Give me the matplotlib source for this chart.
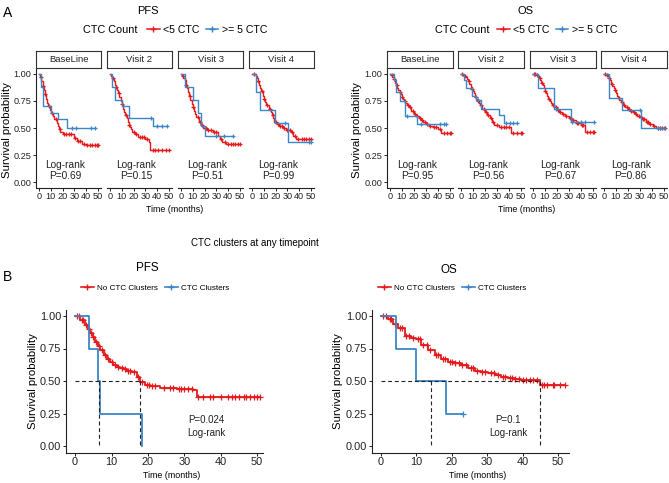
import numpy as np
import matplotlib
matplotlib.use("Agg")
import matplotlib.pyplot as plt
from matplotlib.lines import Line2D

plt.rcParams['font.family'] = ['Liberation Sans', 'DejaVu Sans']

W, H = 669, 483
RED = '#E41A1C'
BLUE = '#3A86C8'

FACETS = ['BaseLine', 'Visit 2', 'Visit 3', 'Visit 4']

# ---- panel A, PFS: <5 CTC (time, survival after step, censor times) ----
pfs_lo_t = [
    [0, 1, 2, 3, 4, 5, 6, 7, 8, 9, 10, 12, 13, 15, 16, 17, 18, 20, 30, 32, 36, 40],
    [0, 1, 2, 3, 4, 5, 6, 7, 8, 9, 10, 11, 12, 13, 14, 15, 16, 17, 18, 19, 21, 24, 30, 33, 34],
    [0, 1, 2, 3, 4, 5, 6, 7, 8, 9, 10, 11, 12, 13, 15, 17, 19, 22, 27, 31, 33, 35, 38],
    [0, 3, 4, 5, 6, 7, 8, 9, 10, 11, 12, 14, 16, 17, 18, 19, 21, 23, 26, 29, 33, 35, 37],
]
pfs_lo_s = [
    [1, .97, .93, .89, .85, .81, .77, .73, .70, .67, .64, .61, .58, .55, .52, .49, .46, .44, .41, .38, .35, .34],
    [1, .98, .96, .93, .90, .88, .85, .82, .79, .75, .72, .68, .65, .62, .59, .56, .53, .51, .49, .46, .44, .42, .40, .37, .30],
    [1, .98, .96, .94, .90, .87, .83, .80, .76, .72, .69, .66, .63, .60, .56, .53, .50, .48, .46, .43, .40, .37, .35],
    [1, .98, .96, .93, .90, .87, .84, .80, .77, .74, .71, .68, .65, .62, .59, .56, .54, .52, .50, .48, .46, .43, .40],
]
pfs_lo_c = [
    [1.5, 3.5, 5.5, 8.5, 11, 14, 17.5, 21, 23, 25, 27, 30.5, 33, 35, 38, 41, 43, 45, 47, 49, 50],
    [2.5, 5.5, 7.5, 10.5, 13.5, 16.5, 20, 22, 25, 27, 29, 31, 36, 38, 41, 44, 47, 50],
    [1.5, 4.5, 7.5, 10.5, 14, 16, 18, 20, 21, 23, 25, 28, 30, 34, 37, 40, 42, 44, 46, 48, 50],
    [2, 5.5, 8.5, 10.5, 13, 15, 17.5, 20, 22, 24, 25, 27, 30, 32, 34, 36, 39, 42, 44, 46, 48, 50],
]
# ---- panel A, PFS: >= 5 CTC ----
pfs_hi_t = [
    [0, 1.5, 3.5, 10, 16, 24],
    [0, 2, 4.5, 10, 16, 36],
    [0, 3, 10, 14, 17, 20],
    [0, 3.5, 6.5, 19.5, 30.5],
]
pfs_hi_s = [
    [1, .88, .70, .64, .58, .50],
    [1, .88, .76, .70, .59, .52],
    [1, .88, .76, .64, .52, .43],
    [1, .83, .67, .55, .37],
]
pfs_hi_c = [
    [28, 31, 44, 47],
    [35, 40, 44, 48],
    [30, 36, 44],
    [28, 48, 50],
]
pfs_pvals = ['P=0.69', 'P=0.15', 'P=0.51', 'P=0.99']

# ---- panel A, OS: <5 CTC ----
os_lo_t = [
    [0, 1, 2, 3, 4, 5, 6, 7, 8, 9, 10, 11, 12, 13, 14, 16, 18, 20, 22, 24, 26, 28, 30, 33, 36, 40, 43],
    [0, 2, 3, 4, 5, 6, 7, 8, 9, 10, 11, 12, 13, 14, 15, 16, 18, 20, 22, 24, 26, 28, 32, 42],
    [0, 3, 4, 5, 6, 7, 8, 9, 10, 11, 12, 13, 14, 15, 16, 18, 20, 22, 24, 27, 30, 33, 36, 40, 44],
    [0, 2, 3, 4, 5, 6, 7, 8, 9, 10, 11, 12, 13, 14, 16, 18, 20, 22, 24, 26, 28, 30, 32, 35, 38, 41, 44],
]
os_lo_s = [
    [1, .99, .97, .95, .92, .90, .87, .85, .83, .81, .79, .77, .75, .73, .71, .69, .66, .63, .61, .59, .57, .56, .54, .52, .51, .49, .45],
    [1, .99, .98, .97, .95, .93, .91, .88, .86, .84, .82, .79, .77, .75, .73, .71, .68, .65, .62, .59, .56, .53, .51, .45],
    [1, .99, .98, .96, .94, .92, .90, .87, .84, .82, .80, .77, .75, .73, .71, .69, .67, .65, .63, .61, .59, .57, .55, .53, .46],
    [1, .99, .98, .96, .94, .91, .89, .87, .85, .82, .80, .78, .76, .74, .71, .69, .68, .66, .65, .63, .61, .60, .58, .56, .54, .52, .50],
]
os_lo_c = [
    [1.5, 3.5, 5.5, 8.5, 10.5, 12.5, 15, 17, 19, 21, 23, 25, 27, 29, 31, 34, 37, 39, 42, 45, 48, 50, 51],
    [1, 3.5, 6.5, 9.5, 12.5, 14.5, 17, 19, 21, 23, 25, 27, 30, 34, 36, 38, 40, 44, 47, 50, 51],
    [1, 2, 3.5, 5.5, 7.5, 10.5, 13.5, 17, 19, 21, 23, 25, 28, 31, 34, 37, 38, 41, 42, 45, 48, 50, 51],
    [1, 2.5, 4.5, 6.5, 9.5, 12.5, 15, 17, 19, 21, 23, 25, 27, 29, 31, 33, 34, 36, 37, 39, 42, 45, 47, 49, 51],
]
# ---- panel A, OS: >= 5 CTC ----
os_hi_t = [
    [0, 3, 5, 8, 13, 23],
    [0, 2.5, 4, 9, 13, 17, 32, 36],
    [0, 4, 18, 32],
    [0, 4.5, 15.5, 31],
]
os_hi_s = [
    [1, .94, .83, .75, .61, .54],
    [1, .94, .87, .80, .76, .68, .62, .55],
    [1, .87, .68, .56],
    [1, .78, .67, .50],
]
os_hi_c = [
    [14.5, 26, 42, 45, 47],
    [14, 38, 41, 44, 47],
    [19, 33, 40, 44, 51],
    [30, 45, 47, 50],
]
os_pvals = ['P=0.95', 'P=0.56', 'P=0.67', 'P=0.86']

# ---- panel B: CTC clusters at any timepoint ----
pfsb_no_t = [0, 1.4, 2.7, 3.5, 4.1, 4.8, 5.5, 6.2, 6.9, 7.8, 8.7, 9.6, 10.5, 11.4, 12.4,
             13.3, 14.2, 15.6, 16.9, 17.9, 19.2, 20.6, 23.4, 27.9, 32.5, 33.4]
pfsb_no_s = [1, .97, .93, .90, .87, .84, .80, .77, .74, .70, .67, .65, .62, .61, .60,
             .59, .58, .57, .53, .49, .47, .46, .45, .44, .43, .38]
pfsb_no_c = [0.5, 1, 1.8, 2.2, 3, 3.8, 4.5, 5, 5.8, 6.5, 7.3, 8.2, 9, 10, 11, 11.8, 12.8,
             13.7, 14.6, 15, 16.2, 17.4, 18.5, 19.8, 20.2, 21, 22, 24.5, 26, 27, 28.5, 29,
             30, 31, 32, 33.8, 35, 37, 38, 40, 42, 43, 44, 45, 46.5, 47, 48, 49, 50, 50.8]
pfsb_cl_t = [0, 3.7, 6.4, 6.9, 18.3]
pfsb_cl_s = [1, .75, .50, .25, 0]
pfsb_cl_c = []

osb_no_t = [0, 2, 3.4, 4.8, 6.7, 8.6, 10, 11.4, 13.3, 15.2, 17, 18.9, 20.8, 22.7, 24.6,
            26.5, 28.3, 30.2, 32.1, 34, 35.9, 37.8, 39.6, 44.8]
osb_no_s = [1, .98, .94, .91, .85, .83, .82, .78, .74, .70, .67, .65, .64, .62, .60,
            .58, .57, .56, .55, .53, .525, .515, .51, .47]
osb_no_c = [0.5, 1.5, 2.5, 3, 4, 5.5, 6, 7, 8, 9, 10.5, 11, 12, 13, 14, 15.5, 16, 17.5,
            18, 19.5, 20, 21, 22, 23, 24, 25.5, 26, 27, 28.5, 29.5, 31, 32, 33, 34.5, 35,
            36.5, 37, 38, 39, 40, 41, 42, 43, 44, 45.5, 46, 47, 48.5, 49, 50.5, 52]
osb_cl_t = [0, 4.3, 9.8, 18.5]
osb_cl_s = [1, .75, .50, .25]
osb_cl_c = [23.2]

pfsb_p = 'P=0.024'
osb_p = 'P=0.1'


def box(left, top, right, bottom):
    return [left / W, 1 - bottom / H, (right - left) / W, (bottom - top) / H]


def draw_km(ax, t, s, cens, color, lw, ms):
    x, y = list(t), list(s)
    if len(cens) and max(cens) > x[-1]:
        x.append(max(cens))
        y.append(y[-1])
    ax.step(x, y, where='post', color=color, lw=lw, zorder=3)
    if len(cens):
        c = np.asarray(cens, dtype=float)
        idx = np.searchsorted(t, c, side='right') - 1
        ax.plot(c, np.asarray(s)[idx], ls='none', marker='+', color=color,
                ms=ms, mew=0.9, zorder=3)


def median_time(t, s):
    t, s = np.asarray(t, dtype=float), np.asarray(s, dtype=float)
    i = int(np.argmax(s <= 0.5))
    if np.isclose(s[i], 0.5) and i + 1 < len(t):
        return (t[i] + t[i + 1]) / 2
    return t[i]


def style_axis(ax, fs):
    for sp in ['top', 'right']:
        ax.spines[sp].set_visible(False)
    for sp in ['left', 'bottom']:
        ax.spines[sp].set_linewidth(0.8)
        ax.spines[sp].set_color('#222222')
    ax.tick_params(labelsize=fs, length=2.2, width=0.7, colors='#222222', pad=1.2)


fig = plt.figure(figsize=(W / 100, H / 100), dpi=100)


def facet_row(lefts, width, lo_t, lo_s, lo_c, hi_t, hi_s, hi_c, pvals, title, tcx, ylx, legx, ccx):
    for i, name in enumerate(FACETS):
        ax = fig.add_axes(box(lefts[i], 68.5, lefts[i] + width, 187.5))
        draw_km(ax, lo_t[i], lo_s[i], lo_c[i], RED, 1.0, 3.5)
        draw_km(ax, hi_t[i], hi_s[i], hi_c[i], BLUE, 1.0, 3.5)
        ax.set_xlim(-2.5, 52.5)
        ax.set_ylim(-0.05, 1.05)
        ax.set_xticks([0, 10, 20, 30, 40, 50])
        ax.set_yticks([0, .25, .5, .75, 1])
        ax.set_yticklabels(['0.00', '0.25', '0.50', '0.75', '1.00'])
        style_axis(ax, 6.6)
        if i > 0:
            ax.spines['left'].set_visible(False)
            ax.tick_params(axis='y', left=False, labelleft=False)
        ax.text(22.5, 0.105, 'Log-rank\n' + pvals[i], ha='center', va='center',
                fontsize=7.3, linespacing=1.15, color='#222222')
        sax = fig.add_axes(box(lefts[i], 51, lefts[i] + width, 68))
        sax.set_xticks([])
        sax.set_yticks([])
        for sp in sax.spines.values():
            sp.set_linewidth(0.8)
            sp.set_color('#333333')
        sax.text(0.5, 0.5, name, ha='center', va='center', fontsize=6.8,
                 color='#222222', transform=sax.transAxes)
    fig.text(tcx / W, 1 - 11 / H, title, ha='center', va='center', fontsize=8)
    fig.text(ylx / W, 1 - 130 / H, 'Survival probability', rotation=90,
             ha='center', va='center', fontsize=8.2)
    fig.text((lefts[0] + lefts[-1] + width) / 2 / W, 1 - 210 / H, 'Time (months)',
             ha='center', va='center', fontsize=6.4)
    fig.text(ccx / W, 1 - 30 / H, 'CTC Count', ha='left', va='center', fontsize=7.8)
    handles = [Line2D([], [], color=RED, marker='+', ms=5, lw=1.1),
               Line2D([], [], color=BLUE, marker='+', ms=5, lw=1.1)]
    fig.legend(handles, ['<5 CTC', '>= 5 CTC'], loc='center', ncol=2,
               bbox_to_anchor=(legx / W, 1 - 30 / H), frameon=False, fontsize=7.6,
               handlelength=1.2, handletextpad=0.3, columnspacing=0.6,
               borderpad=0, borderaxespad=0)


facet_row([36, 107, 178, 249], 65, pfs_lo_t, pfs_lo_s, pfs_lo_c,
          pfs_hi_t, pfs_hi_s, pfs_hi_c, pfs_pvals, 'PFS', 147.5, 7, 207, 83)
facet_row([387, 458, 530, 601], 65.5, os_lo_t, os_lo_s, os_lo_c,
          os_hi_t, os_hi_s, os_hi_c, os_pvals, 'OS', 525, 357.5, 557, 435)


def cluster_panel(left, right, xmax, no_t, no_s, no_c, cl_t, cl_s, cl_c, pval, title, tcx, tcy, ylx, legx):
    ax = fig.add_axes(box(left, 309.5, right, 452.5))
    draw_km(ax, no_t, no_s, no_c, RED, 1.3, 5)
    draw_km(ax, cl_t, cl_s, cl_c, BLUE, 1.3, 5)
    meds = [median_time(no_t, no_s), median_time(cl_t, cl_s)]
    ax.plot([0, max(meds)], [0.5, 0.5], ls=(0, (3.5, 2.5)), color='#222222', lw=0.8, zorder=4)
    for m in meds:
        ax.plot([m, m], [0.5, 0], ls=(0, (3.5, 2.5)), color='#222222', lw=0.8, zorder=4)
    ax.set_xlim(-2.5, xmax)
    ax.set_ylim(-0.05, 1.05)
    ax.set_xticks([0, 10, 20, 30, 40, 50])
    ax.set_yticks([0, .25, .5, .75, 1])
    ax.set_yticklabels(['0.00', '0.25', '0.50', '0.75', '1.00'])
    style_axis(ax, 7.9)
    ax.text(36, 0.147, pval + '\nLog-rank', ha='center', va='center', fontsize=7,
            linespacing=1.35, color='#222222')
    fig.text(tcx / W, 1 - tcy / H, title, ha='center', va='center', fontsize=8.4)
    fig.text(ylx / W, 1 - 381 / H, 'Survival probability', rotation=90,
             ha='center', va='center', fontsize=8.2)
    fig.text((left + right) / 2 / W + 0.01, 1 - 476 / H, 'Time (months)',
             ha='center', va='center', fontsize=6.4)
    handles = [Line2D([], [], color=RED, marker='+', ms=4.5, lw=1.2),
               Line2D([], [], color=BLUE, marker='+', ms=4.5, lw=1.2)]
    fig.legend(handles, ['No CTC Clusters', 'CTC Clusters'], loc='center', ncol=2,
               bbox_to_anchor=(legx / W, 1 - 288 / H), frameon=False, fontsize=5.9,
               handlelength=1.6, handletextpad=0.4, columnspacing=0.8,
               borderpad=0, borderaxespad=0)


cluster_panel(66, 263, 51.6, pfsb_no_t, pfsb_no_s, pfsb_no_c,
              pfsb_cl_t, pfsb_cl_s, pfsb_cl_c, pfsb_p, 'PFS', 147.5, 268, 33, 155)
cluster_panel(372, 569, 53.1, osb_no_t, osb_no_s, osb_no_c,
              osb_cl_t, osb_cl_s, osb_cl_c, osb_p, 'OS', 449, 270, 338, 452)

fig.text(255 / W, 1 - 243 / H, 'CTC clusters at any timepoint', ha='center',
         va='center', fontsize=7)
fig.text(8 / W, 1 - 13 / H, 'A', ha='center', va='center', fontsize=10)
fig.text(8 / W, 1 - 277 / H, 'B', ha='center', va='center', fontsize=10)

fig.savefig('out.png', dpi=100)
